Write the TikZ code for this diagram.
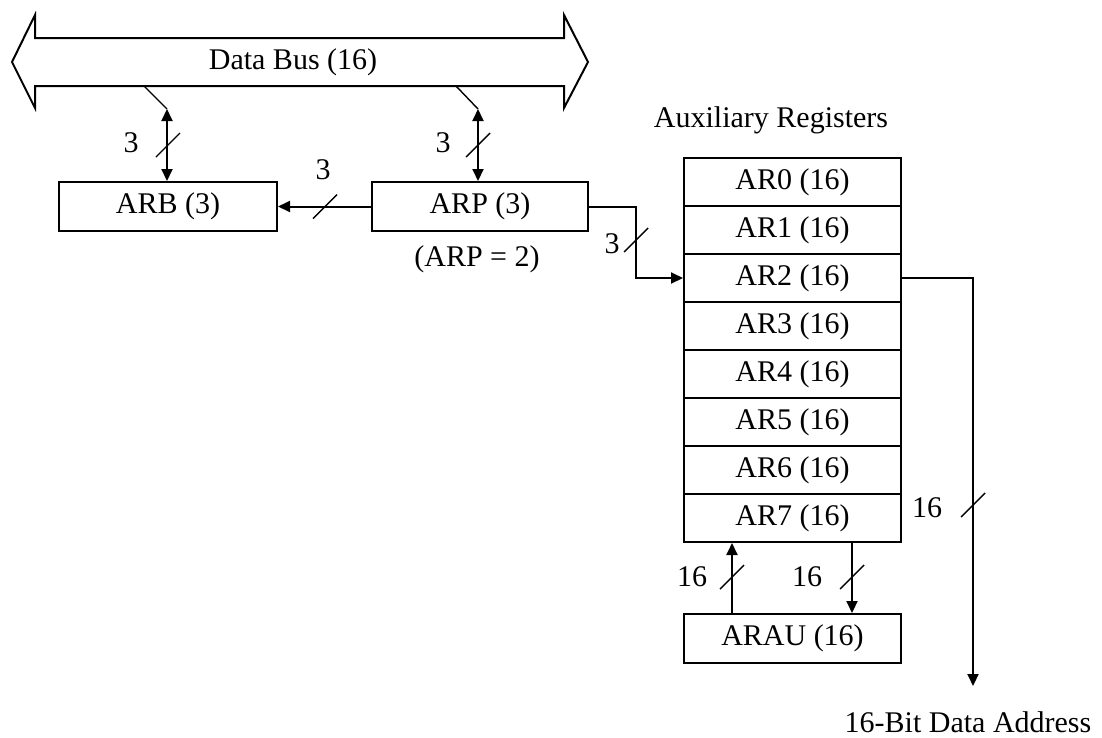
\documentclass[tikz,border=0pt]{standalone}
\usepackage{fontspec}
\setmainfont{Liberation Serif}
\usetikzlibrary{arrows.meta}
\begin{document}
\begin{tikzpicture}[x=1pt,y=-1pt,
  every node/.style={font=\fontsize{30}{36}\selectfont},
  reg/.style={draw,line width=2pt,minimum width=217pt,minimum height=48pt,inner sep=0pt,anchor=center},
  lbl/.style={inner sep=0pt,anchor=center},
  wire/.style={line width=2pt},
  arr/.style={wire,-{Triangle[length=12pt,width=11pt]}},
  darr/.style={wire,{Triangle[length=12pt,width=11pt]}-{Triangle[length=12pt,width=11pt]}},
  busslash/.pic={\draw[line width=1.4pt] (-12,12) -- (12,-12);}
]
\useasboundingbox[fill=white] (0,0) rectangle (1102,737);

% data bus
\draw[line width=2pt,line join=miter] (35,38) -- (564,38) -- (564,15) -- (588,62) -- (564,108) -- (564,86)
  -- (35,86) -- (35,108) -- (12,62) -- (35,15) -- cycle;
\node[lbl] (bus) at (293,62) {Data Bus (16)};
\coordinate (tapL0) at (144,86);
\coordinate (tapL) at (167,109);
\coordinate (tapR0) at (456,86);
\coordinate (tapR) at (478,109);
\draw[line width=1.4pt] (tapL0) -- (tapL);
\draw[line width=1.4pt] (tapR0) -- (tapR);

% boxes
\node[reg,minimum width=218pt,minimum height=49pt] (arb) at (168,206.5) {ARB (3)};
\node[reg,minimum width=216pt,minimum height=49pt] (arp) at (480,206.5) {ARP (3)};
\node[lbl] (arpval) at (477,259) {(ARP = 2)};

\node[lbl] (auxt) at (771,120) {Auxiliary Registers};
\node[reg] (ar0) at (792.5,182) {AR0 (16)};
\node[reg] (ar1) at (792.5,230) {AR1 (16)};
\node[reg] (ar2) at (792.5,278) {AR2 (16)};
\node[reg] (ar3) at (792.5,326) {AR3 (16)};
\node[reg] (ar4) at (792.5,374) {AR4 (16)};
\node[reg] (ar5) at (792.5,422) {AR5 (16)};
\node[reg] (ar6) at (792.5,470) {AR6 (16)};
\node[reg] (ar7) at (792.5,518) {AR7 (16)};
\node[reg,minimum height=49pt] (arau) at (792.5,638.5) {ARAU (16)};

% connectors
\draw[darr] (tapL) -- (arb.north -| tapL);
\draw[darr] (tapR) -- (arp.north -| tapR);
\draw[arr] (arp.west) -- (arb.east);
\coordinate (bend) at (636,206.5);
\draw[arr] (arp.east) -- (bend) |- (ar2.west);
\coordinate (outc) at (973,278);
\coordinate (addr) at (973,686);
\draw[arr] (ar2.east) -- (outc) -- (addr);
\node[lbl] (addrt) at (968,722) {16-Bit Data Address};
\draw[arr] (arau.north -| 732,0) -- (ar7.south -| 732,0);
\draw[arr] (ar7.south -| 852,0) -- (arau.north -| 852,0);

% bus width slashes
\pic at (168,145) {busslash};
\pic at (478,145) {busslash};
\pic at (325,206.5) {busslash};
\pic at (636,240) {busslash};
\pic at (973,505) {busslash};
\pic at (732,577) {busslash};
\pic at (852,577) {busslash};

% width labels
\node[lbl] (l1) at (131,143) {3};
\node[lbl] (l2) at (443,143) {3};
\node[lbl] (l3) at (323,170) {3};
\node[lbl] (l4) at (612,244) {3};
\node[lbl] (l5) at (927,508) {16};
\node[lbl] (l6) at (692,577) {16};
\node[lbl] (l7) at (807,577) {16};
\end{tikzpicture}
\end{document}
